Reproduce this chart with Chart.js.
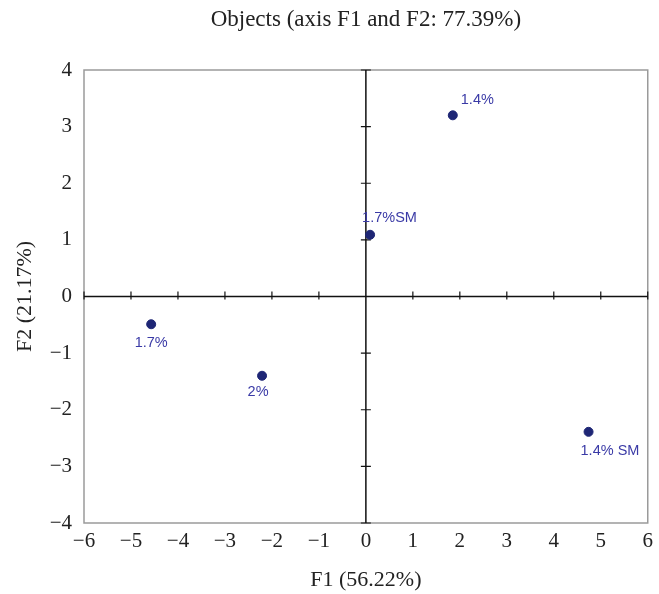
<!DOCTYPE html>
<html>
<head>
<meta charset="utf-8">
<script src="https://cdn.jsdelivr.net/npm/chart.js@4.4.0/dist/chart.umd.min.js"></script>
<style>
  html, body { margin: 0; padding: 0; background: #fff; }
  #wrap { width: 659px; height: 594px; }
</style>
</head>
<body>
<div id="wrap"><canvas id="pca" width="659" height="594"></canvas></div>
<script>
// objects on the F1/F2 plane
const names = ['1.4%', '1.7%SM', '1.7%', '2%', '1.4% SM'];
const f1 = [1.85, 0.09, -4.57, -2.21, 4.74];
const f2 = [3.20, 1.09, -0.49, -1.40, -2.39];
const xTicks = [-6, -5, -4, -3, -2, -1, 0, 1, 2, 3, 4, 5, 6];
const yTicks = [-4, -3, -2, -1, 0, 1, 2, 3, 4];

// where each label sits relative to its point (px)
const labelShift = [[8, -15, 'left'], [-8, -17, 'left'], [0, 19, 'center'], [-4, 16, 'center'], [-8, 19, 'left']];

const serif = '"Liberation Serif", "DejaVu Serif", serif';
const dotColor = '#1e2675';
const textBlue = '#3a3aa6';

const points = f1.map((x, i) => ({ x: x, y: f2[i] }));

const frame = {
    id: 'frame',
    beforeDatasetsDraw(chart) {
        const c = chart.ctx, a = chart.chartArea;
        const sx = chart.scales.x, sy = chart.scales.y;
        c.save();
        c.strokeStyle = '#9a9a9a';
        c.lineWidth = 1.5;
        c.strokeRect(a.left, a.top, a.right - a.left, a.bottom - a.top);

        const x0 = sx.getPixelForValue(0), y0 = sy.getPixelForValue(0);
        c.strokeStyle = '#111';
        c.lineWidth = 1.5;
        c.beginPath();
        c.moveTo(a.left, y0); c.lineTo(a.right, y0);
        c.moveTo(x0, a.top); c.lineTo(x0, a.bottom);
        c.stroke();

        c.lineWidth = 1.2;
        c.beginPath();
        xTicks.forEach(v => {
            if (v === 0) return;
            const px = sx.getPixelForValue(v);
            c.moveTo(px, y0 - 5); c.lineTo(px, y0 + 3);
        });
        yTicks.forEach(v => {
            if (v === 0) return;
            const py = sy.getPixelForValue(v);
            c.moveTo(x0 - 5, py); c.lineTo(x0 + 5, py);
        });
        c.stroke();
        c.restore();
    },
    afterDatasetsDraw(chart) {
        const c = chart.ctx;
        const sx = chart.scales.x, sy = chart.scales.y;
        c.save();
        c.fillStyle = textBlue;
        c.font = '14.5px "Liberation Sans", Arial, sans-serif';
        c.textBaseline = 'middle';
        names.forEach((n, i) => {
            const s = labelShift[i];
            c.textAlign = s[2];
            c.fillText(n, sx.getPixelForValue(f1[i]) + s[0], sy.getPixelForValue(f2[i]) + s[1]);
        });
        c.restore();
    }
};

new Chart(document.getElementById('pca'), {
    type: 'scatter',
    data: {
        datasets: [{
            data: points,
            backgroundColor: dotColor,
            borderColor: dotColor,
            pointRadius: 4.5,
            pointHoverRadius: 4.5
        }]
    },
    options: {
        responsive: false,
        animation: false,
        events: [],
        layout: { padding: { left: 0, right: 6, top: 0, bottom: 0 } },
        plugins: {
            legend: { display: false },
            tooltip: { enabled: false },
            title: {
                display: true,
                text: 'Objects (axis F1 and F2: 77.39%)',
                fullSize: false,
                color: '#222',
                font: { family: serif, size: 23, weight: 'normal' },
                padding: { top: 6, bottom: 36.4 }
            }
        },
        scales: {
            x: {
                type: 'linear',
                min: -6, max: 6,
                afterBuildTicks: s => { s.ticks = xTicks.map(v => ({ value: v })); },
                afterFit: s => { s.height = 71; },
                grid: { display: false, drawTicks: false },
                border: { display: false },
                ticks: {
                    color: '#222',
                    padding: 6,
                    font: { family: serif, size: 21 },
                    callback: v => String(v).replace('-', '\u2212')
                },
                title: {
                    display: true,
                    text: 'F1 (56.22%)',
                    color: '#222',
                    font: { family: serif, size: 22 },
                    padding: { top: 0, bottom: 1 }
                }
            },
            y: {
                type: 'linear',
                min: -4, max: 4,
                afterBuildTicks: s => { s.ticks = yTicks.map(v => ({ value: v })); },
                afterFit: s => { s.width = 84; },
                grid: { display: false, drawTicks: false },
                border: { display: false },
                ticks: {
                    color: '#222',
                    padding: 12,
                    font: { family: serif, size: 21 },
                    callback: v => String(v).replace('-', '\u2212')
                },
                title: {
                    display: true,
                    text: 'F2 (21.17%)',
                    color: '#222',
                    font: { family: serif, size: 22 },
                    padding: { top: 12, bottom: 0 }
                }
            }
        }
    },
    plugins: [frame]
});
</script>
</body>
</html>
